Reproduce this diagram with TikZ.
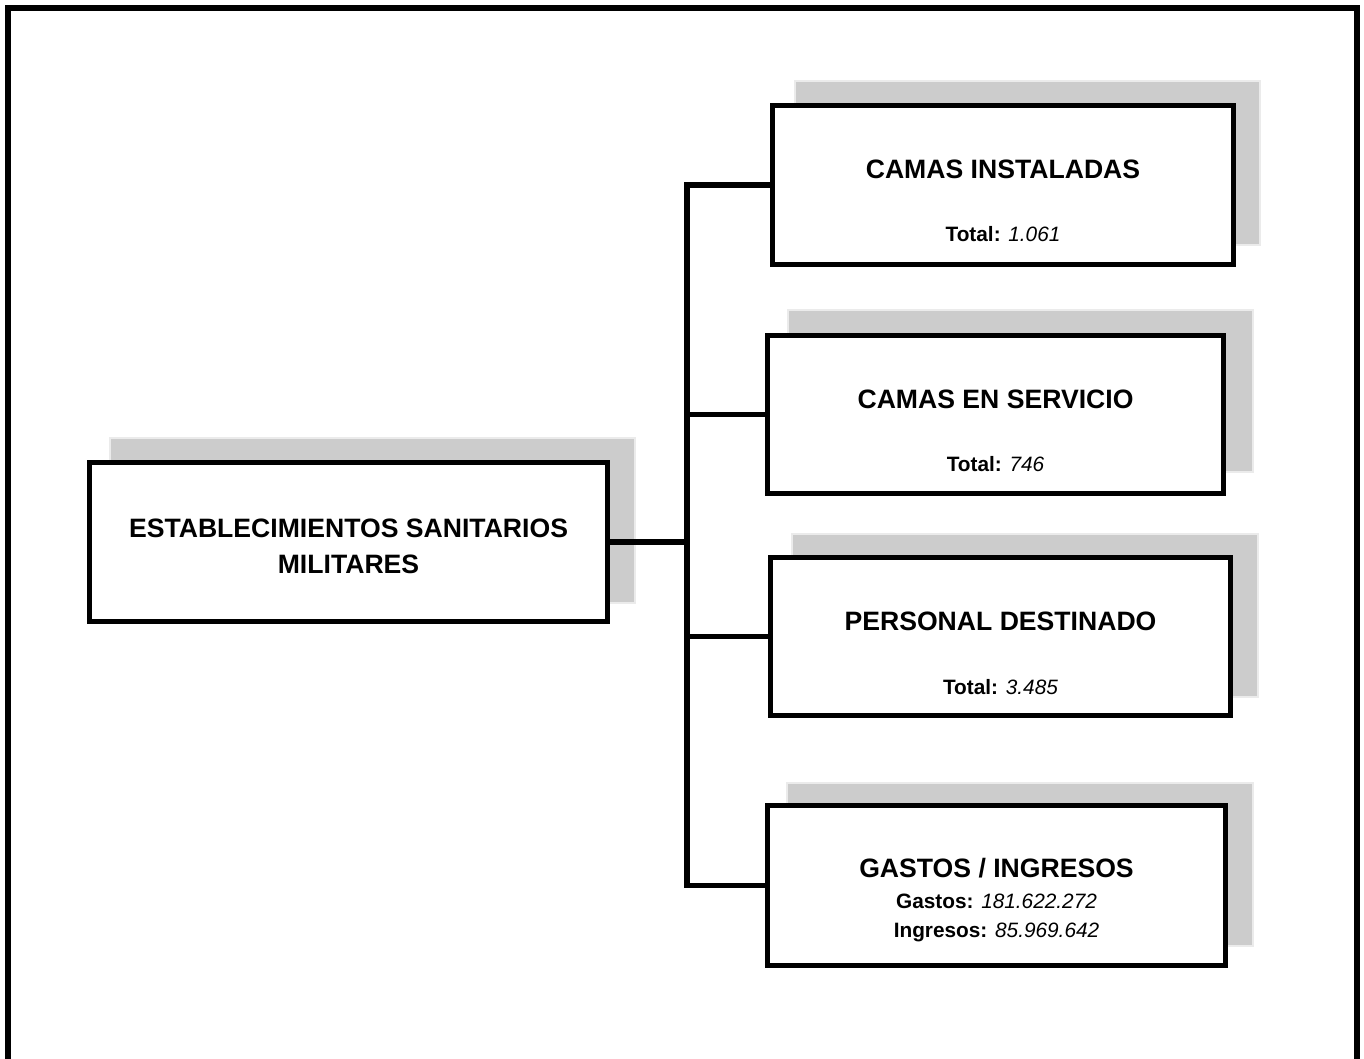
\documentclass[tikz,border=0pt]{standalone}
\usepackage{fontspec}
\setmainfont{Liberation Sans}
\begin{document}
\begin{tikzpicture}[x=0.5pt,y=-0.5pt,
  boxst/.style={draw=black,line width=2.75pt,fill=white,inner sep=0pt,rectangle},
  shadowst/.style={fill=black!20,draw=black!8,line width=0.6pt},
  conn/.style={draw=black,line width=2.75pt,line join=miter},
  frame/.style={draw=black,line width=3pt},
  titlest/.style={anchor=base,inner sep=0pt,font=\fontsize{13.3}{15}\selectfont\bfseries},
  subst/.style={anchor=base,inner sep=0pt,font=\fontsize{10.4}{12}\selectfont}]
\useasboundingbox (0,0) rectangle (1364,1059);
% outer frame
\draw[frame] (8,1059) -- (8,8) -- (1357,8) -- (1357,1059);
% shadows
\path[shadowst] (795,81) rectangle (1260,245);
\path[shadowst] (788,310) rectangle (1253,472);
\path[shadowst] (792,534) rectangle (1258,697);
\path[shadowst] (787,783) rectangle (1253,946);
\path[shadowst] (110,438) rectangle (635,603);
% boxes
\node[boxst,minimum width=230.5pt,minimum height=79.5pt] (box1) at (1003,185) {};
\node[boxst,minimum width=228pt,minimum height=79pt] (box2) at (995.5,414.5) {};
\node[boxst,minimum width=230pt,minimum height=79pt] (box3) at (1000.5,636.5) {};
\node[boxst,minimum width=229pt,minimum height=80pt] (box4) at (996.5,885.5) {};
\node[boxst,minimum width=259pt,minimum height=79.5pt] (main) at (348.5,542) {};
% connectors
\coordinate (jt) at (687,185);
\draw[conn] (box1.west) -- (box1.west -| jt) -- (box4.west -| jt) -- (box4.west);
\draw[conn] (main.east) -- (main.east -| jt);
\draw[conn] (box2.west -| jt) -- (box2.west);
\draw[conn] (box3.west -| jt) -- (box3.west);
% texts
\node[titlest] (m1) at (348.5,537) {ESTABLECIMIENTOS SANITARIOS};
\node[titlest] (m2) at (348.5,573) {MILITARES};
\node[titlest] (t1) at (1003,179) {CAMAS INSTALADAS};
\node[subst] (s1) at (1003,242) {\textbf{Total:} \textit{1.061}};
\node[titlest] (t2) at (995.5,408) {CAMAS EN SERVICIO};
\node[subst] (s2) at (995.5,471) {\textbf{Total:} \textit{746}};
\node[titlest] (t3) at (1000.5,630) {PERSONAL DESTINADO};
\node[subst] (s3) at (1000.5,694) {\textbf{Total:} \textit{3.485}};
\node[titlest] (t4) at (996.5,877) {GASTOS / INGRESOS};
\node[subst] (s4) at (996.5,908) {\textbf{Gastos:} \textit{181.622.272}};
\node[subst] (s5) at (996.5,937) {\textbf{Ingresos:} \textit{85.969.642}};
\end{tikzpicture}
\end{document}
